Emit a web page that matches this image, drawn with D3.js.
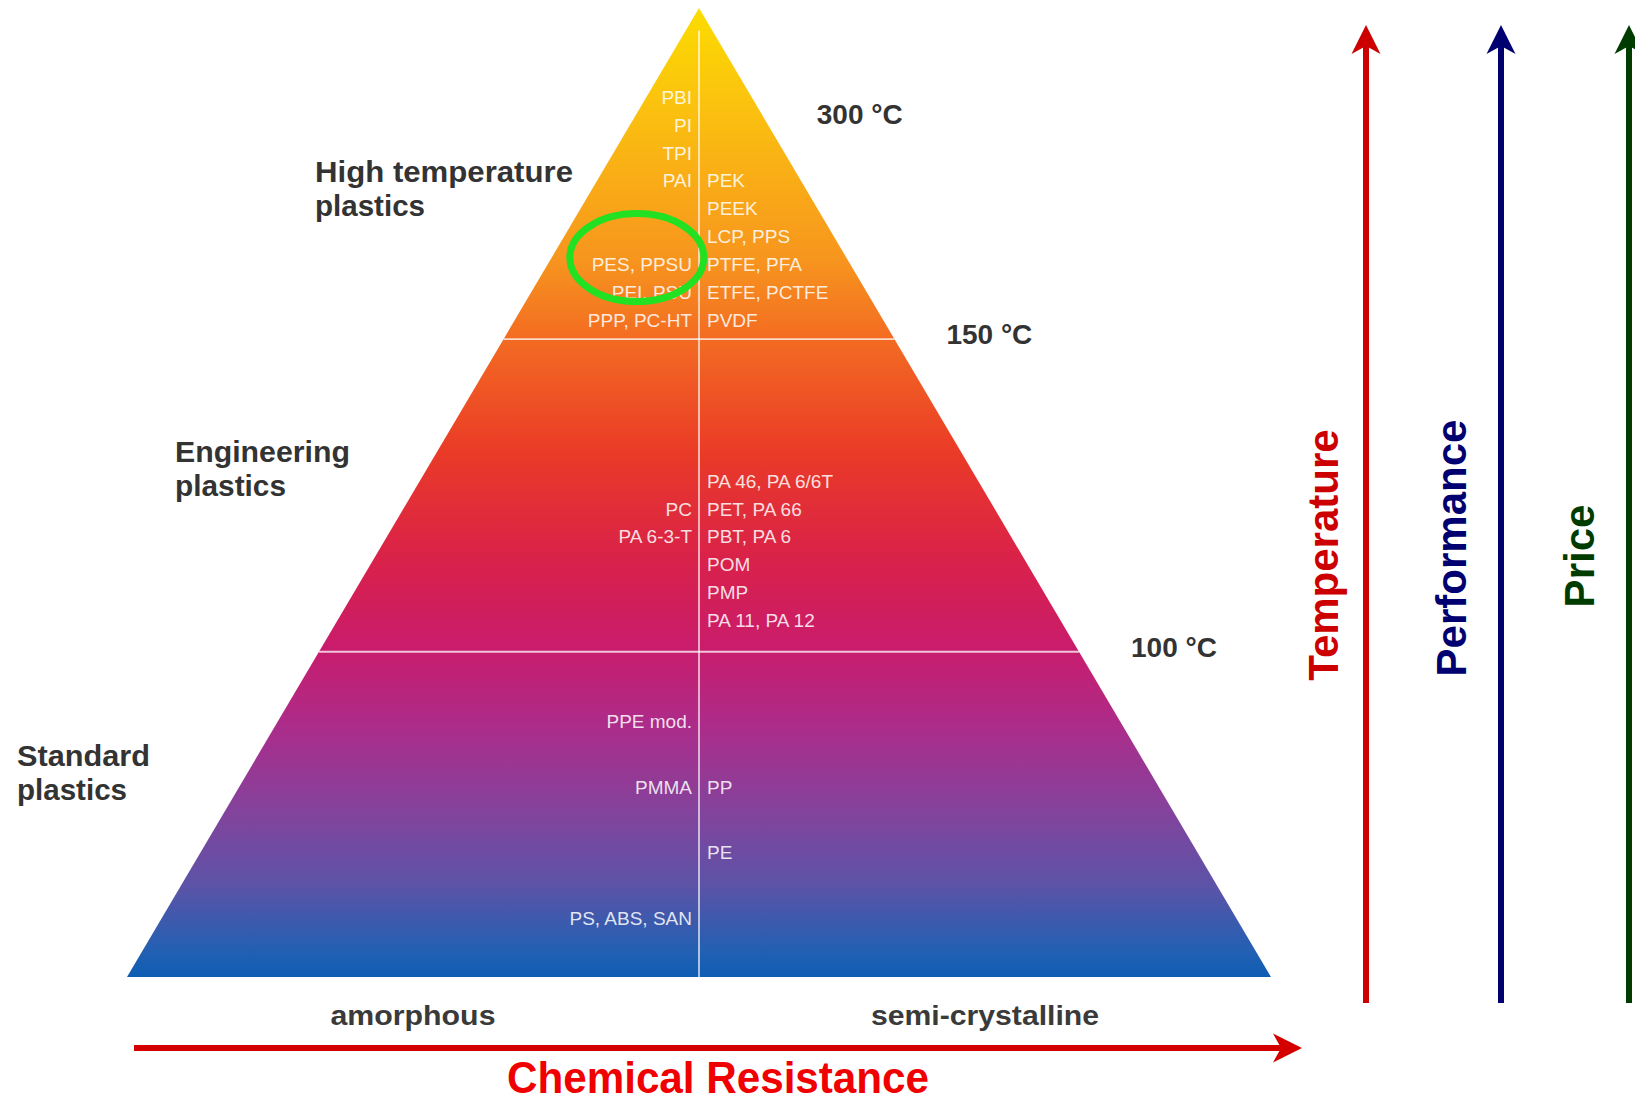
<!DOCTYPE html>
<html>
<head>
<meta charset="utf-8">
<script src="https://cdn.jsdelivr.net/npm/d3@7"></script>
<style>
  html, body { margin: 0; padding: 0; background: #fff; }
  svg { display: block; font-family: "Liberation Sans", Arial, sans-serif; }
</style>
</head>
<body>
<svg id="chart" width="1635" height="1104"></svg>
<script>
// tiers, bottom -> top
const tierNames = [["Standard", "plastics"], ["Engineering", "plastics"], ["High temperature", "plastics"]];
const tierTemps = ["100 °C", "150 °C", "300 °C"];
const tempLevels = [1.007, 1.975, 2.655]; // pyramid height (in tiers) of each temperature mark

// polymers per tier, one entry per text row ("" = empty row)
const amorphousStd = ["PPE mod.", "PMMA", "", "PS, ABS, SAN"];
const crystallineStd = ["", "PP", "PE", ""];
const amorphousEng = ["", "PC", "PA 6-3-T", "", "", ""];
const crystallineEng = ["PA 46, PA 6/6T", "PET, PA 66", "PBT, PA 6", "POM", "PMP", "PA 11, PA 12"];
const amorphousHigh = ["PBI", "PI", "TPI", "PAI", "", "", "PES, PPSU", "PEI, PSU", "PPP, PC-HT"];
const crystallineHigh = ["", "", "", "PEK", "PEEK", "LCP, PPS", "PTFE, PFA", "ETFE, PCTFE", "PVDF"];

const structures = ["amorphous", "semi-crystalline"];
const trends = ["Temperature", "Performance", "Price"];
const xTitle = "Chemical Resistance";
const highlighted = "PES, PPSU";

// ---- layout / styles
const trendColors = ["#cc0000", "#000070", "#003c00"];
const trendX = [1366, 1501, 1629];
const trendLabelX = [1338, 1466, 1594];
const trendLabelY = [555, 548, 556];
const rowRange = [[721, 918], [481, 620], [97, 320]];   // first/last row centre per tier
const tierLabelX = [17, 175, 315];
const tierLabelY = [766, 462, 182];
const tierLabelW = [[133, 110], [175, 111], [258, 110]];
const gradStops = [
  [0.00, "#fbdc00"], [0.10, "#fbc20f"], [0.26, "#f7951e"], [0.34, "#f36c22"],
  [0.46, "#ea3a27"], [0.57, "#d9214a"], [0.66, "#c91c6c"], [0.745, "#aa2d8b"],
  [0.83, "#83439c"], [0.905, "#5c53a7"], [0.975, "#2160b2"], [1.00, "#0e5db4"]
];

const d3 = window.d3;
const svg = d3.select("#chart");

// x: -1 .. 1 across the pyramid base, y: 0 .. 3 tiers up to the apex
const x = d3.scaleLinear().domain([-1, 1]).range([127, 1271]);
const y = d3.scaleLinear().domain([0, 3]).range([977, 8]);
const halfW = lvl => 1 - lvl / 3;

const grad = svg.append("defs").append("linearGradient")
  .attr("id", "pyrGrad")
  .attr("gradientUnits", "userSpaceOnUse")
  .attr("x1", 0).attr("x2", 0)
  .attr("y1", y(3)).attr("y2", y(0));
grad.selectAll("stop").data(gradStops).enter().append("stop")
  .attr("offset", d => d[0])
  .attr("stop-color", d => d[1]);

svg.append("path")
  .attr("d", d3.line()([[x(-1), y(0)], [x(0), y(3)], [x(1), y(0)]]) + "Z")
  .attr("fill", "url(#pyrGrad)");

// tier boundaries (at 100 and 150 °C) + amorphous / semi-crystalline divider
svg.selectAll(".tierLine").data(tempLevels.slice(0, 2)).enter().append("line")
  .attr("class", "tierLine")
  .attr("x1", d => x(-halfW(d))).attr("x2", d => x(halfW(d)))
  .attr("y1", d => y(d)).attr("y2", d => y(d))
  .attr("stroke", "#fff").attr("stroke-opacity", 0.75).attr("stroke-width", 1.8);

svg.append("line")
  .attr("x1", x(0)).attr("x2", x(0))
  .attr("y1", y(2.93)).attr("y2", y(0))
  .attr("stroke", "#fff").attr("stroke-opacity", 0.7).attr("stroke-width", 1.8);

// polymer names
const labels = svg.append("g")
  .attr("font-size", 19)
  .attr("fill", "#fff")
  .attr("fill-opacity", 0.86);

function drawRows(rows, tier, side) {
  const ry = d3.scaleLinear().domain([0, rows.length - 1]).range(rowRange[tier]);
  return labels.selectAll(null)
    .data(rows.map((t, i) => ({ t, i })).filter(d => d.t))
    .enter().append("text")
    .attr("x", side < 0 ? x(0) - 7 : x(0) + 8)
    .attr("y", d => ry(d.i))
    .attr("dy", "0.36em")
    .attr("text-anchor", side < 0 ? "end" : "start")
    .text(d => d.t);
}

drawRows(amorphousStd, 0, -1);
drawRows(crystallineStd, 0, 1);
drawRows(amorphousEng, 1, -1);
drawRows(crystallineEng, 1, 1);
const hiLeft = drawRows(amorphousHigh, 2, -1);
drawRows(crystallineHigh, 2, 1);

// green ring around the highlighted group
const hl = hiLeft.filter(d => d.t === highlighted).node().getBBox();
svg.append("ellipse")
  .attr("cx", hl.x + hl.width / 2 - 5)
  .attr("cy", hl.y + hl.height / 2 - 7)
  .attr("rx", 67).attr("ry", 44)
  .attr("fill", "none")
  .attr("stroke", "#22e022")
  .attr("stroke-width", 7);

// tier names
tierNames.forEach((lines, i) => {
  svg.append("g").selectAll("text").data(lines).enter().append("text")
    .attr("x", tierLabelX[i])
    .attr("y", (d, j) => tierLabelY[i] + j * 34)
    .attr("font-size", 29)
    .attr("font-weight", "bold")
    .attr("fill", "#333")
    .attr("textLength", (d, j) => tierLabelW[i][j])
    .attr("lengthAdjust", "spacingAndGlyphs")
    .text(d => d);
});

// temperature marks
svg.selectAll(".temp").data(tierTemps).enter().append("text")
  .attr("class", "temp")
  .attr("x", (d, i) => x(halfW(tempLevels[i])) + 52)
  .attr("y", (d, i) => y(tempLevels[i]) + 5)
  .attr("font-size", 28)
  .attr("font-weight", "bold")
  .attr("fill", "#333")
  .text(d => d);

// amorphous / semi-crystalline
svg.selectAll(".struct").data(structures).enter().append("text")
  .attr("class", "struct")
  .attr("x", (d, i) => x(i === 0 ? -0.5 : 0.5))
  .attr("y", 1025)
  .attr("text-anchor", "middle")
  .attr("font-size", 28)
  .attr("font-weight", "bold")
  .attr("fill", "#3a3a3a")
  .attr("textLength", (d, i) => i === 0 ? 165 : 228)
  .attr("lengthAdjust", "spacingAndGlyphs")
  .text(d => d);

function drawArrow(x1, y1, x2, y2, color) {
  const len = Math.hypot(x2 - x1, y2 - y1);
  const ux = (x2 - x1) / len, uy = (y2 - y1) / len;
  const nx = -uy, ny = ux;
  const head = 29, half = 14.5, notch = 21;
  svg.append("line")
    .attr("x1", x1).attr("y1", y1)
    .attr("x2", x2 - ux * (notch - 1)).attr("y2", y2 - uy * (notch - 1))
    .attr("stroke", color).attr("stroke-width", 6);
  svg.append("path")
    .attr("d", `M${x2},${y2}` +
      `L${x2 - ux * head + nx * half},${y2 - uy * head + ny * half}` +
      `L${x2 - ux * notch},${y2 - uy * notch}` +
      `L${x2 - ux * head - nx * half},${y2 - uy * head - ny * half}Z`)
    .attr("fill", color);
}

// chemical resistance axis
drawArrow(134, 1048, 1302, 1048, "#d40000");
svg.append("text")
  .attr("x", 718).attr("y", 1093)
  .attr("text-anchor", "middle")
  .attr("font-size", 44)
  .attr("font-weight", "bold")
  .attr("fill", "#f00000")
  .attr("textLength", 422)
  .attr("lengthAdjust", "spacingAndGlyphs")
  .text(xTitle);

// vertical trend arrows
trends.forEach((t, i) => {
  drawArrow(trendX[i], 1003, trendX[i], 25, trendColors[i]);
  svg.append("text")
    .attr("transform", `translate(${trendLabelX[i]},${trendLabelY[i]}) rotate(-90)`)
    .attr("text-anchor", "middle")
    .attr("font-size", 42)
    .attr("font-weight", "bold")
    .attr("fill", trendColors[i])
    .text(t);
});
</script>
</body>
</html>
